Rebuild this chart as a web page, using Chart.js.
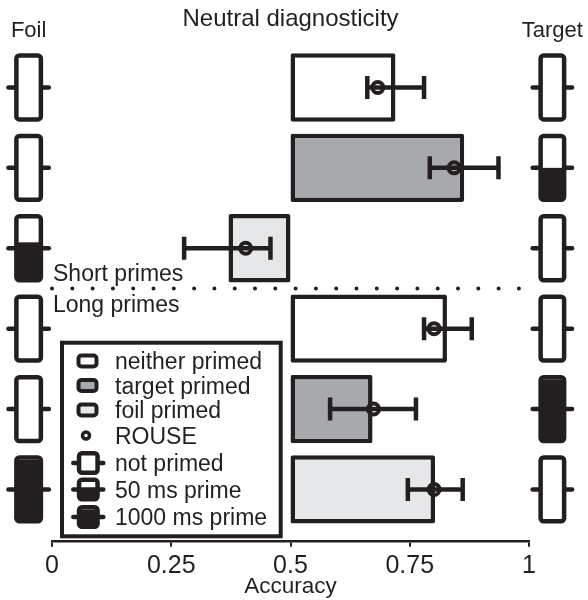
<!DOCTYPE html>
<html>
<head>
<meta charset="utf-8">
<style>
  html, body { margin: 0; padding: 0; background: #ffffff; }
  #wrap { width: 588px; height: 600px; }
</style>
<script src="https://cdn.jsdelivr.net/npm/chart.js@4.4.1/dist/chart.umd.min.js"></script>
</head>
<body>
<div id="wrap"><canvas id="c" width="588" height="600"></canvas></div>
<script>
// ---------------- data ----------------
const rows = [1, 2, 3, 4, 5, 6];
const conditions = ['neither primed', 'target primed', 'foil primed', 'neither primed', 'target primed', 'foil primed'];
const accuracy = [0.720, 0.864, 0.370, 0.828, 0.672, 0.803];
const ciLow    = [0.661, 0.792, 0.277, 0.780, 0.583, 0.746];
const ciHigh   = [0.780, 0.936, 0.458, 0.880, 0.763, 0.861];
const rouse    = [0.683, 0.843, 0.406, 0.801, 0.674, 0.801];
const foilPrimeFill   = [0, 0, 0.6, 0, 0, 1];
const targetPrimeFill = [0, 0.5, 0, 0, 1, 0];
const baseValue = 0.5;
const tickValues = [0, 0.25, 0.5, 0.75, 1];
const tickLabels = ['0', '0.25', '0.5', '0.75', '1'];
const groupLabels = ['Short primes', 'Long primes'];
const groupBoundary = 3.5;
const legendLabels = ['neither primed', 'target primed', 'foil primed', 'ROUSE', 'not primed', '50 ms prime', '1000 ms prime'];
const legendPrimeFill = [0, 0.65, 1];
const titleText = 'Neutral diagnosticity';
const sideLabels = ['Foil', 'Target'];
const axisTitle = 'Accuracy';

// ---------------- styles ----------------
const dark = '#231f20';
const FONT = "'Liberation Sans', Arial, Helvetica, sans-serif";
const condColor = { 'neither primed': '#ffffff', 'target primed': '#a7a9ac', 'foil primed': '#e6e7e8' };

function roundRectPath(ctx, x, y, w, h, r) {
  ctx.beginPath();
  if (ctx.roundRect) ctx.roundRect(x, y, w, h, r); else ctx.rect(x, y, w, h);
}
function drawPrimeIcon(ctx, cx, cy, ow, oh, frac, lw, tab) {
  ctx.save();
  ctx.strokeStyle = dark; ctx.lineWidth = lw; ctx.lineCap = 'round';
  ctx.beginPath(); ctx.moveTo(cx - ow / 2 - tab, cy); ctx.lineTo(cx + ow / 2 + tab, cy); ctx.stroke();
  const x = cx - ow / 2 + lw / 2, y = cy - oh / 2 + lw / 2, w = ow - lw, h = oh - lw;
  roundRectPath(ctx, x, y, w, h, 3); ctx.fillStyle = '#ffffff'; ctx.fill();
  if (frac > 0) {
    const ih = oh - 2 * lw, fh = ih * frac;
    ctx.fillStyle = dark;
    ctx.fillRect(x, cy + oh / 2 - lw - fh, w, fh + lw / 2);
  }
  roundRectPath(ctx, x, y, w, h, 3); ctx.lineCap = 'butt'; ctx.stroke();
  ctx.restore();
}
function drawSwatch(ctx, cx, cy, ow, oh, color, lw) {
  ctx.save();
  roundRectPath(ctx, cx - ow / 2 + lw / 2, cy - oh / 2 + lw / 2, ow - lw, oh - lw, 3);
  ctx.fillStyle = color; ctx.fill();
  ctx.strokeStyle = dark; ctx.lineWidth = lw; ctx.stroke();
  ctx.restore();
}

const decor = {
  id: 'decor',
  afterDraw(chart) {
    const { ctx, scales: { x, y }, chartArea } = chart;
    const barMeta = chart.getDatasetMeta(0);
    ctx.save();
    // prime icons (Foil on the left, Target on the right)
    const foilX = x.getPixelForValue(-0.049);
    const targX = x.getPixelForValue(1.049);
    rows.forEach((r, i) => {
      const cy = y.getPixelForValue(r);
      const h = barMeta.data[i].height;
      drawPrimeIcon(ctx, foilX, cy, 29, h, foilPrimeFill[i], 4.5, 5.7);
      drawPrimeIcon(ctx, targX, cy, 28, h, targetPrimeFill[i], 4.5, 5.7);
    });
    ctx.fillStyle = dark;
    ctx.font = '22px ' + FONT;
    ctx.textAlign = 'center'; ctx.textBaseline = 'alphabetic';
    ctx.fillText(sideLabels[0], foilX, 37);
    ctx.fillText(sideLabels[1], targX, 37);

    // dotted separator between short and long primes
    const sepY = y.getPixelForValue(groupBoundary);
    ctx.save();
    ctx.strokeStyle = dark; ctx.lineWidth = 4; ctx.lineCap = 'round';
    ctx.setLineDash([0, 20.3]);
    ctx.beginPath();
    ctx.moveTo(x.getPixelForValue(0), sepY);
    ctx.lineTo(x.getPixelForValue(0.985), sepY);
    ctx.stroke();
    ctx.restore();
    ctx.font = '23px ' + FONT;
    ctx.textAlign = 'left';
    ctx.fillStyle = dark;
    ctx.fillText(groupLabels[0], x.getPixelForValue(0) + 1, sepY - 7);
    ctx.fillText(groupLabels[1], x.getPixelForValue(0) + 1, sepY + 23.5);

    // legend
    const lg = { x: chartArea.left + 10, y: 342.7, w: 218.7, h: 193.6 };
    ctx.fillStyle = '#ffffff';
    ctx.fillRect(lg.x, lg.y, lg.w, lg.h);
    ctx.strokeStyle = dark; ctx.lineWidth = 4;
    ctx.strokeRect(lg.x, lg.y, lg.w, lg.h);
    const itemY = [361, 385.5, 410, 435.5, 463, 489.5, 517];
    const iconX = lg.x + 26;
    legendLabels.forEach((lab, k) => {
      const cy = itemY[k];
      if (k < 3) {
        drawSwatch(ctx, iconX - 0.5, cy, 22, 15, condColor[lab], 4);
      } else if (k === 3) {
        ctx.save();
        ctx.beginPath(); ctx.arc(iconX - 2, cy, 3.5, 0, Math.PI * 2);
        ctx.fillStyle = '#ffffff'; ctx.fill();
        ctx.lineWidth = 3.5; ctx.strokeStyle = dark; ctx.stroke();
        ctx.restore();
      } else {
        drawPrimeIcon(ctx, iconX + 0.3, cy, 23, 24, legendPrimeFill[k - 4], 4.5, 3.5);
      }
      ctx.fillStyle = dark;
      ctx.font = '23px ' + FONT;
      ctx.textAlign = 'left';
      ctx.fillText(lab, lg.x + 53, cy + 8);
    });
    ctx.restore();
  }
};

const datasets = [];
datasets.push({
  type: 'bar',
  indexAxis: 'y',
  data: rows.map((r, i) => ({ y: r, x: [baseValue, accuracy[i]] })),
  backgroundColor: conditions.map(c => condColor[c]),
  borderColor: dark,
  borderWidth: 4.5,
  borderSkipped: false,
  borderRadius: 2,
  categoryPercentage: 1,
  barPercentage: 0.85,
  order: 3
});
rows.forEach((r, i) => {
  datasets.push({
    type: 'line',
    data: [{ x: ciLow[i], y: r }, { x: ciHigh[i], y: r }],
    borderColor: dark,
    borderWidth: 4.5,
    pointStyle: 'line',
    pointRotation: 90,
    pointRadius: 11.5,
    pointBorderColor: dark,
    pointBorderWidth: 4.5,
    pointBackgroundColor: dark,
    fill: false,
    order: 2
  });
});
datasets.push({
  type: 'line',
  showLine: false,
  data: rows.map((r, i) => ({ x: rouse[i], y: r })),
  pointStyle: 'circle',
  pointRadius: 5.5,
  pointBorderWidth: 4,
  pointBorderColor: dark,
  pointBackgroundColor: 'rgba(0,0,0,0)',
  order: 1
});

new Chart(document.getElementById('c'), {
  type: 'bar',
  data: { datasets },
  plugins: [decor],
  options: {
    responsive: false,
    animation: false,
    events: [],
    indexAxis: 'y',
    layout: { padding: { left: 52, right: 59, top: 0, bottom: 0 } },
    plugins: {
      legend: { display: false },
      tooltip: { enabled: false },
      title: {
        display: true,
        text: titleText,
        color: dark,
        font: { family: FONT, size: 24, weight: 'normal', lineHeight: 1 },
        padding: { top: 7.7, bottom: 3.5 }
      }
    },
    scales: {
      x: {
        type: 'linear',
        min: 0, max: 1,
        afterBuildTicks: (s) => { s.ticks = tickValues.map(v => ({ value: v })); },
        ticks: {
          callback: (v, idx) => tickLabels[idx],
          color: dark,
          font: { family: FONT, size: 25, lineHeight: 1 },
          padding: 7,
          maxRotation: 0,
          autoSkip: false
        },
        grid: { drawOnChartArea: false, drawTicks: true, tickLength: 5, color: dark, lineWidth: 2 },
        border: { display: true, color: dark, width: 2.5 },
        title: {
          display: true,
          text: axisTitle,
          color: dark,
          font: { family: FONT, size: 22.5, lineHeight: 1 },
          padding: { top: -10.2, bottom: 2 }
        }
      },
      y: {
        type: 'linear',
        reverse: true,
        offset: false,
        min: 0.35, max: 6.65,
        display: false,
        afterBuildTicks: (s) => { s.ticks = rows.map(v => ({ value: v })); }
      }
    }
  }
});
</script>
</body>
</html>
